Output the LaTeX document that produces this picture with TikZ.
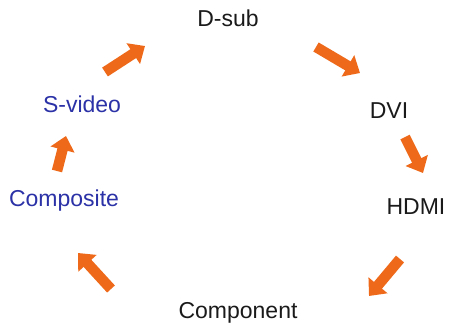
\documentclass[tikz,border=0pt]{standalone}
\usepackage{fontspec}
\setmainfont{Liberation Sans}
\usepackage{tikz}
\usetikzlibrary{arrows.meta}
\definecolor{arrowcol}{HTML}{EE6A1A}
\definecolor{analogcol}{HTML}{2B31A6}
\definecolor{digitalcol}{HTML}{1A1A1A}
\tikzset{
  % connector name on the ring
  port/.style={text=#1, font=\fontsize{23}{27}\selectfont, inner sep=0pt},
  % fat orange block arrow
  blockarrow/.style={draw=arrowcol, line width=10.5pt,
                     -{Triangle[length=14pt,width=24pt,fill=arrowcol]}},
}

\begin{document}
\begin{tikzpicture}[x=1pt,y=-1pt]
  \useasboundingbox (0,0) rectangle (452,325);
  % ports round the ring
  \node[port=digitalcol] (dsub)  at (228,18)  {D-sub};
  \node[port=digitalcol] (dvi)   at (389,111) {DVI};
  \node[port=digitalcol] (hdmi)  at (416,207) {HDMI};
  \node[port=digitalcol] (comp)  at (238,313) {Component};
  \node[port=analogcol]  (cvbs)  at (64,201)  {Composite};
  \node[port=analogcol]  (svid)  at (82,104)  {S-video};
  % arrow ends
  \coordinate (a1s) at (105,72);  \coordinate (a1e) at (145,46);
  \coordinate (a2s) at (316,47);  \coordinate (a2e) at (360,73);
  \coordinate (a3s) at (405,137); \coordinate (a3e) at (423,173);
  \coordinate (a4s) at (400,259); \coordinate (a4e) at (369,296);
  \coordinate (a5s) at (111,289); \coordinate (a5e) at (78,253);
  \coordinate (a6s) at (57,171);  \coordinate (a6e) at (66,136);
  % the ring of arrows
  \draw[blockarrow] (a1s) -- (a1e);
  \draw[blockarrow] (a2s) -- (a2e);
  \draw[blockarrow] (a3s) -- (a3e);
  \draw[blockarrow] (a4s) -- (a4e);
  \draw[blockarrow] (a5s) -- (a5e);
  \draw[blockarrow] (a6s) -- (a6e);
\end{tikzpicture}
\end{document}
